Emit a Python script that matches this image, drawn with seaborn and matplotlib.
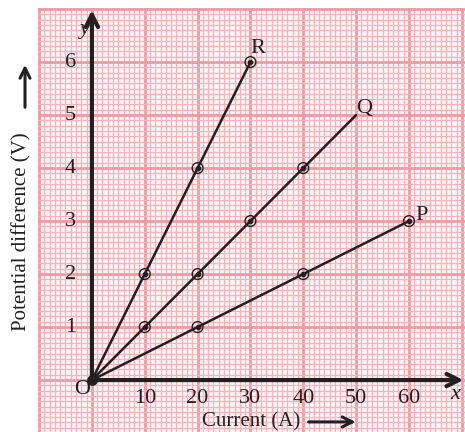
import numpy as np
import pandas as pd
import matplotlib
matplotlib.use("Agg")
import matplotlib.pyplot as plt
import seaborn as sns

# data
r_current = [0, 10, 20, 30]
r_voltage = [0, 2, 4, 6]
q_current = [0, 10, 20, 30, 40, 50]
q_voltage = [0, 1, 2, 3, 4, 5]
p_current = [0, 20, 40, 60]
p_voltage = [0, 1, 2, 3]

x_ticks = [10, 20, 30, 40, 50, 60]
y_ticks = [1, 2, 3, 4, 5, 6]

sns.set_style("white")
plt.rcParams["font.family"] = ["Liberation Serif", "DejaVu Serif"]

ink = "#231f20"

df = pd.concat([
    pd.DataFrame({"current": r_current, "voltage": r_voltage, "line": "R"}),
    pd.DataFrame({"current": q_current, "voltage": q_voltage, "line": "Q"}),
    pd.DataFrame({"current": p_current, "voltage": p_voltage, "line": "P"}),
])
# points that carry a circle marker (Q's last point has none)
marked = df[(df["current"] > 0) & ~((df["line"] == "Q") & (df["current"] == 50))]

fig = plt.figure(figsize=(4.65, 4.32), dpi=100)
ax = fig.add_axes([38 / 465, 0, 427 / 465, 424 / 432])

# graph paper
ax.set_facecolor("#fff4f5")
ax.set_xticks(np.arange(-10, 71, 10))
ax.set_xticks(np.arange(-10, 71, 1), minor=True)
ax.set_yticks(np.arange(-1, 8, 1))
ax.set_yticks(np.arange(-1, 7.05, 0.1), minor=True)
ax.grid(which="major", color="#ef9aa4", lw=2.0)
ax.grid(which="minor", color="#f5b3bb", lw=0.9)
ax.set_axisbelow(True)
ax.tick_params(which="both", length=0, labelbottom=False, labelleft=False)
for s in ax.spines.values():
    s.set_visible(False)
ax.set_xlim(-10.2, 70.6)
ax.set_ylim(-0.98, 7.02)

# axes with arrows
ax.annotate("", xy=(70.3, 0), xytext=(0, 0),
            arrowprops=dict(arrowstyle="->", lw=3, color=ink, mutation_scale=22,
                            shrinkA=0, shrinkB=0))
ax.annotate("", xy=(0, 6.98), xytext=(0, 0),
            arrowprops=dict(arrowstyle="->", lw=3, color=ink, mutation_scale=22,
                            shrinkA=0, shrinkB=0))

sns.lineplot(data=df, x="current", y="voltage", units="line", estimator=None,
             color=ink, lw=1.8, ax=ax, legend=False, sort=False)
ax.scatter(marked["current"], marked["voltage"], s=60, facecolor="none",
           edgecolor=ink, lw=1.0, zorder=5)
ax.scatter(marked["current"], marked["voltage"], s=9, color=ink, zorder=6)
ax.scatter([0], [0], s=45, color=ink, zorder=6)

ax.set_xlabel("")
ax.set_ylabel("")

fs = 16
for t in x_ticks:
    ax.text(t, -0.34, str(t), ha="center", va="center", fontsize=fs, color=ink)
for t in y_ticks:
    ax.text(-4.1, t, str(t), ha="center", va="center", fontsize=fs, color=ink)
ax.text(-1.9, -0.17, "O", ha="center", va="center", fontsize=fs, color=ink)
ax.text(68.7, -0.27, "x", ha="center", va="center", fontsize=fs, color=ink,
        style="italic")
ax.text(-1.3, 6.62, "y", ha="center", va="center", fontsize=fs, color=ink,
        style="italic")
ax.text(31.4, 6.26, "R", ha="center", va="center", fontsize=fs, color=ink)
ax.text(51.5, 5.13, "Q", ha="center", va="center", fontsize=fs, color=ink)
ax.text(62.3, 3.11, "P", ha="center", va="center", fontsize=fs, color=ink)

# axis titles
ax.text(30.1, -0.79, "Current (A)", ha="center", va="center", fontsize=15,
        color=ink)
ax.annotate("", xy=(49.9, -0.79), xytext=(41.0, -0.79),
            arrowprops=dict(arrowstyle="->", lw=2.2, color=ink, mutation_scale=18,
                            shrinkA=0, shrinkB=0))
fig.text(22 / 465, 1 - 232 / 432, "Potential difference (V)", rotation=90,
         ha="center", va="center", fontsize=15, color=ink)
fig.add_artist(matplotlib.patches.FancyArrowPatch(
    (25 / 465, 1 - 110 / 432), (25 / 465, 1 - 62 / 432),
    transform=fig.transFigure, arrowstyle="->", lw=2.2, color=ink,
    mutation_scale=18))

fig.savefig("out.png", dpi=100)
